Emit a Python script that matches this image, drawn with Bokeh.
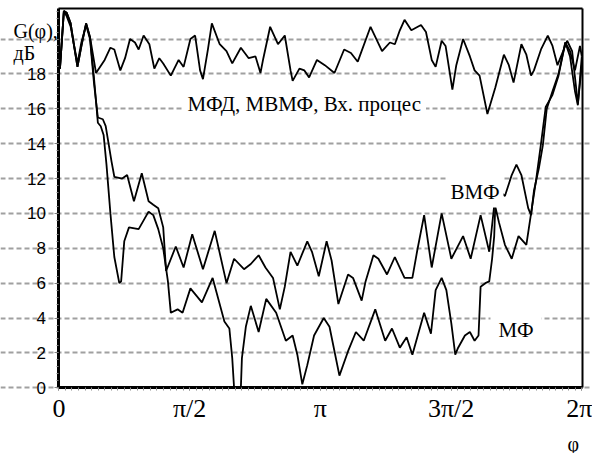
import numpy as np
from bokeh.plotting import figure
from bokeh.models import Range1d, FixedTicker, Label, LinearAxis, Grid
from bokeh.embed import file_html
from bokeh.resources import INLINE

# ---- data (phi given in units of pi, G in dB) ----
x_tick_pi = [0, 0.5, 1, 1.5, 2]
x_tick_labels = ["0", "π/2", "π", "3π/2", "2π"]
y_ticks = [0, 2, 4, 6, 8, 10, 12, 14, 16, 18, 20]

# МФД, МВМФ, Вх. процес
phi_top = [0.004, 0.019, 0.030, 0.045, 0.056, 0.071, 0.086, 0.104, 0.119, 0.142,
           0.175, 0.197, 0.212, 0.235, 0.253, 0.272, 0.291, 0.305, 0.324, 0.346,
           0.365, 0.384, 0.399, 0.428, 0.458, 0.477, 0.503, 0.521, 0.540, 0.551,
           0.570, 0.585, 0.615, 0.641, 0.663, 0.696, 0.726, 0.752, 0.771, 0.782,
           0.808, 0.838, 0.864, 0.886, 0.894, 0.920, 0.939, 0.957, 0.987, 1.017,
           1.054, 1.091, 1.117, 1.143, 1.192, 1.236, 1.266, 1.285, 1.304, 1.322,
           1.348, 1.385, 1.404, 1.426, 1.441, 1.464, 1.479, 1.505, 1.520, 1.546,
           1.572, 1.590, 1.609, 1.639, 1.669, 1.702, 1.721, 1.739, 1.769, 1.788,
           1.806, 1.817, 1.844, 1.870, 1.888, 1.907, 1.926, 1.944, 1.963, 1.985,
           2.000]
g_top = [18.3, 21.6, 21.5, 20.9, 19.8, 18.4, 19.6, 20.9, 20.1, 18.05,
         18.8, 19.5, 19.4, 18.2, 18.9, 20.0, 19.8, 19.4, 20.2, 19.7,
         18.3, 18.9, 18.6, 17.9, 18.8, 18.4, 20.0, 20.2, 18.2, 17.7,
         19.4, 20.9, 19.7, 19.3, 18.6, 19.5, 18.9, 19.0, 18.05, 18.9,
         20.7, 19.7, 20.2, 18.2, 17.6, 18.3, 18.2, 17.8, 18.8, 18.5,
         18.05, 19.4, 19.2, 18.7, 20.7, 19.3, 19.8, 19.7, 20.5, 21.1,
         20.5, 20.8, 20.4, 18.8, 18.4, 19.9, 19.6, 17.1, 18.5, 20.0,
         19.0, 18.2, 17.9, 15.7, 17.2, 19.1, 18.5, 17.5, 19.7, 19.1,
         17.9, 18.2, 19.4, 20.2, 19.6, 18.5, 19.2, 19.9, 19.3, 16.3,
         18.5]

# ВМФ
phi_vmf = [0.004, 0.019, 0.030, 0.045, 0.056, 0.071, 0.086, 0.104, 0.119, 0.134,
           0.149, 0.168, 0.179, 0.190, 0.201, 0.212, 0.242, 0.261, 0.287, 0.317,
           0.343, 0.361, 0.380, 0.399, 0.410, 0.447, 0.477, 0.510, 0.551, 0.596,
           0.641, 0.670, 0.708, 0.734, 0.764, 0.790, 0.819, 0.845, 0.864, 0.886,
           0.912, 0.950, 0.968, 0.994, 1.024, 1.043, 1.069, 1.106, 1.125, 1.158,
           1.173, 1.203, 1.222, 1.255, 1.285, 1.322, 1.352, 1.371, 1.397, 1.426,
           1.464, 1.501, 1.546, 1.575, 1.613, 1.646, 1.669, 1.683, 1.706, 1.732,
           1.750, 1.769, 1.795, 1.806, 1.817, 1.836, 1.851, 1.866, 1.888, 1.911,
           1.937, 1.955, 1.974, 1.993, 2.000]
g_vmf = [18.3, 21.6, 21.3, 20.7, 19.8, 18.6, 19.8, 20.8, 20.0, 17.5,
         15.5, 15.4, 15.0, 14.0, 13.0, 12.1, 12.0, 12.2, 10.7, 12.3,
         10.7, 10.5, 10.3, 9.2, 6.7, 8.1, 6.9, 8.8, 6.8, 9.0,
         6.0, 7.4, 6.8, 7.1, 7.6, 6.9, 6.3, 4.5, 5.8, 7.8,
         7.0, 8.4, 7.8, 6.4, 8.4, 7.3, 4.8, 6.5, 6.3, 5.0,
         6.1, 7.6, 7.4, 6.5, 7.5, 6.3, 6.3, 7.9, 9.9, 6.9,
         10.0, 7.4, 8.7, 7.4, 9.9, 7.8, 11.0, 11.3, 11.0, 12.2,
         12.8, 12.2, 10.3, 9.9, 11.3, 12.6, 13.9, 16.0, 17.0, 18.0,
         19.8, 19.3, 18.2, 19.6, 19.0]

# МФ
phi_mf = [0.004, 0.019, 0.030, 0.045, 0.056, 0.071, 0.086, 0.104, 0.119, 0.134,
          0.149, 0.160, 0.171, 0.182, 0.197, 0.212, 0.231, 0.238, 0.250, 0.268,
          0.305, 0.324, 0.343, 0.361, 0.380, 0.399, 0.417, 0.428, 0.454, 0.473,
          0.503, 0.547, 0.588, 0.633, 0.652, 0.663, 0.670, 0.696, 0.700, 0.715,
          0.734, 0.764, 0.793, 0.831, 0.868, 0.894, 0.912, 0.931, 0.950, 0.976,
          1.013, 1.035, 1.073, 1.106, 1.136, 1.166, 1.210, 1.248, 1.274, 1.304,
          1.330, 1.352, 1.397, 1.423, 1.441, 1.464, 1.482, 1.501, 1.516, 1.527,
          1.553, 1.572, 1.590, 1.605, 1.613, 1.631, 1.646, 1.657, 1.665, 1.669,
          1.683, 1.706, 1.732, 1.758, 1.788, 1.806, 1.825, 1.844, 1.862, 1.888,
          1.911, 1.937, 1.955, 1.974, 1.985, 2.000]
g_mf = [18.3, 21.6, 21.5, 20.9, 19.8, 18.4, 19.6, 20.9, 20.1, 17.8,
        15.2, 15.0, 14.5, 12.8, 10.0, 7.5, 6.0, 6.1, 8.4, 9.2,
        9.1, 9.6, 10.1, 9.9, 9.1, 8.0, 6.1, 4.3, 4.5, 4.3,
        5.7, 4.9, 6.3, 3.8, 3.4, 1.7, 0.0, 0.0, 1.7, 3.5,
        4.7, 3.2, 5.1, 4.3, 2.7, 3.0, 1.9, 0.2, 1.3, 3.0,
        4.0, 3.5, 0.7, 2.1, 3.2, 2.7, 4.5, 2.7, 3.4, 2.3,
        2.9, 1.9, 4.3, 3.1, 5.6, 6.3, 5.6, 3.7, 1.9, 2.3,
        3.0, 3.2, 2.7, 3.0, 5.8, 6.0, 6.1, 7.4, 8.7, 10.4,
        9.5, 8.2, 7.4, 8.7, 8.2, 10.0, 11.9, 14.0, 16.1, 16.8,
        17.9, 19.8, 19.0, 17.0, 16.2, 19.0]

serif = "Liberation Serif"

# plot box limits (data units); the ranges extend past them to leave room for texts
X_RIGHT = 6.2954
Y_TOP = 21.766

p = figure(width=592, height=453, output_backend="svg", toolbar_location=None,
           x_range=Range1d(-0.7018, 6.4119), y_range=Range1d(-3.767, 22.208),
           x_axis_type=None, y_axis_type=None, min_border=0)
p.background_fill_color = "white"
p.border_fill_color = "white"
p.outline_line_color = None

yt = FixedTicker(ticks=y_ticks, minor_ticks=[float(v) for v in np.arange(0, 55) * 0.4])
p.add_layout(Grid(dimension=1, ticker=yt, bounds=(0, X_RIGHT),
                  grid_line_color="#a0a0a0", grid_line_dash="5 3", grid_line_width=2))

xt = [float(v * np.pi) for v in x_tick_pi]
xticker = FixedTicker(ticks=xt,
                      minor_ticks=[float(v) for v in np.arange(0, 81) * np.pi / 40])

for ph, g in [(phi_top, g_top), (phi_vmf, g_vmf), (phi_mf, g_mf)]:
    p.line(x=np.array(ph) * np.pi, y=g, line_color="black", line_width=1.8)

xaxis = LinearAxis(fixed_location=0, ticker=xticker, bounds=(0, X_RIGHT),
                   major_label_overrides={t: l for t, l in zip(xt, x_tick_labels)},
                   major_label_text_font=serif, major_label_text_font_size="26px",
                   major_label_text_color="black", major_label_text_align="right",
                   major_label_standoff=3,
                   axis_line_width=3, axis_line_color="black",
                   major_tick_out=3, major_tick_in=0, major_tick_line_color="#808080",
                   minor_tick_out=3, minor_tick_in=0, minor_tick_line_color="#909090")
p.add_layout(xaxis, "below")

yaxis = LinearAxis(fixed_location=0, ticker=yt, bounds=(0, Y_TOP),
                   major_label_overrides={20: ""},
                   major_label_text_font="Liberation Sans", major_label_text_font_size="17px",
                   major_label_text_color="black", major_label_standoff=9,
                   axis_line_width=3, axis_line_color="black",
                   major_tick_out=4, major_tick_in=0, major_tick_line_color="#808080",
                   minor_tick_out=2, minor_tick_in=0, minor_tick_line_color="#808080")
p.add_layout(yaxis, "left")

# frame lines on the right and on top
empty = FixedTicker(ticks=[])
p.add_layout(LinearAxis(fixed_location=X_RIGHT, ticker=empty, bounds=(0, Y_TOP),
                        axis_line_width=2, axis_line_color="black",
                        major_label_text_alpha=0), "right")
p.add_layout(LinearAxis(fixed_location=Y_TOP, ticker=empty, bounds=(0, X_RIGHT),
                        axis_line_width=2, axis_line_color="black",
                        major_label_text_alpha=0), "above")

def lab(x, y, text, size="20px", bg=None, pad=0):
    kw = dict(x=x, y=y, x_units="screen", y_units="screen", text=text,
              text_font=serif, text_font_size=size, text_color="black",
              text_baseline="alphabetic", text_align="left")
    if bg:
        kw.update(background_fill_color=bg, padding=pad)
    p.add_layout(Label(**kw))

lab(182, 350, "МФД, МВМФ, Вх. процес", size="21px", bg="white", pad=5)
lab(446, 262, "ВМФ", size="21px", bg="white", pad=4)
lab(490, 124, "МФ", size="21px", bg="white", pad=8)
lab(13, 423, "G(φ),")
lab(13, 401, "дБ")
lab(567, 10, "φ")

open("out.html", "w").write(file_html(p, INLINE))
